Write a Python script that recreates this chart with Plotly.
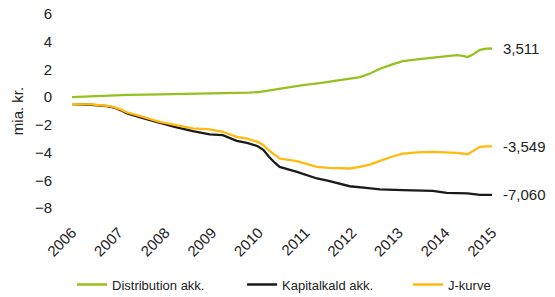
import plotly.graph_objects as go

# Distribution akk. (green)
dist_x = [2006.0, 2006.4, 2006.8, 2007.2, 2007.6, 2008.0, 2008.4, 2008.74, 2008.95, 2009.4, 2009.8,
          2010.0, 2010.24, 2010.5, 2010.75, 2010.95, 2011.31, 2011.6, 2011.9, 2012.17, 2012.4,
          2012.6, 2012.85, 2013.09, 2013.4, 2013.82, 2014.05, 2014.24, 2014.38, 2014.48,
          2014.6, 2014.74, 2014.88, 2015.0]
dist_y = [0.0, 0.05, 0.14, 0.17, 0.18, 0.2, 0.21, 0.22, 0.25, 0.28, 0.32,
          0.37, 0.5, 0.62, 0.75, 0.87, 1.01, 1.15, 1.28, 1.44, 1.72,
          2.05, 2.35, 2.6, 2.72, 2.88, 2.95, 3.03, 2.98, 2.89,
          3.1, 3.42, 3.5, 3.511]

# Kapitalkald akk. (black)
kap_x = [2006.0, 2006.4, 2006.75, 2006.9, 2007.05, 2007.18, 2007.5, 2007.88, 2008.2, 2008.59,
         2008.95, 2009.23, 2009.53, 2009.75, 2009.98, 2010.1, 2010.22, 2010.35, 2010.45, 2010.82,
         2011.25, 2011.5, 2011.74, 2011.95, 2012.3, 2012.6, 2013.09, 2013.4, 2013.73,
         2014.03, 2014.48, 2014.74, 2015.0]
kap_y = [-0.5, -0.55, -0.65, -0.75, -0.95, -1.18, -1.5, -1.88, -2.15, -2.45,
         -2.69, -2.74, -3.16, -3.3, -3.54, -3.8, -4.3, -4.75, -5.03, -5.39,
         -5.87, -6.05, -6.23, -6.43, -6.55, -6.66, -6.71, -6.74, -6.77,
         -6.91, -6.95, -7.05, -7.06]

# J-kurve (yellow)
j_x = [2006.0, 2006.4, 2006.75, 2006.9, 2007.05, 2007.18, 2007.5, 2007.88, 2008.2, 2008.59,
       2008.95, 2009.23, 2009.53, 2009.75, 2009.98, 2010.1, 2010.22, 2010.35, 2010.45, 2010.82,
       2011.25, 2011.5, 2011.74, 2011.95, 2012.17, 2012.4, 2012.6, 2012.85, 2013.09, 2013.4,
       2013.73, 2014.0, 2014.24, 2014.48, 2014.6, 2014.74, 2014.88, 2015.0]
j_y = [-0.5, -0.52, -0.62, -0.72, -0.9, -1.1, -1.4, -1.78, -2.0, -2.26,
       -2.33, -2.5, -2.87, -3.0, -3.23, -3.45, -3.85, -4.2, -4.43, -4.62,
       -5.03, -5.1, -5.15, -5.15, -5.03, -4.85, -4.6, -4.3, -4.07, -3.98,
       -3.95, -3.97, -4.02, -4.12, -3.85, -3.59, -3.55, -3.549]

years = [2006, 2007, 2008, 2009, 2010, 2011, 2012, 2013, 2014, 2015]
y_ticks = [6, 4, 2, 0, -2, -4, -6, -8]
end_labels = ["3,511", "-3,549", "-7,060"]

GREEN = "#97C11E"
BLACK = "#1A1A1A"
YELLOW = "#FFBA0D"

fig = go.Figure()
fig.add_trace(go.Scatter(x=dist_x, y=dist_y, mode="lines", name="Distribution akk.",
                         line=dict(color=GREEN, width=2.3), legend="legend"))
fig.add_trace(go.Scatter(x=kap_x, y=kap_y, mode="lines", name="Kapitalkald akk.",
                         line=dict(color=BLACK, width=2.3), legend="legend2"))
fig.add_trace(go.Scatter(x=j_x, y=j_y, mode="lines", name="J-kurve",
                         line=dict(color=YELLOW, width=2.3), legend="legend3"))

for val, lab in zip([dist_y[-1], j_y[-1], kap_y[-1]], end_labels):
    fig.add_annotation(x=2015, y=val, text=lab, showarrow=False, xanchor="left",
                       xshift=9, font=dict(size=15, color="#222222"))

leg_common = dict(orientation="h", y=0.042, yref="container", yanchor="middle",
                  xanchor="left", font=dict(size=13), bgcolor="rgba(0,0,0,0)", itemwidth=30)

fig.update_layout(
    width=555, height=297,
    margin=dict(l=72, r=63, t=14, b=89, autoexpand=False),
    paper_bgcolor="white", plot_bgcolor="white",
    font=dict(family="Liberation Sans, Arial, sans-serif", color="#222222", size=15),
    showlegend=True,
    legend=dict(x=0.0, **leg_common),
    legend2=dict(x=0.405, **leg_common),
    legend3=dict(x=0.80, **leg_common),
)
fig.update_xaxes(range=[2006, 2015], tickvals=years, ticktext=[str(y) for y in years],
                 tickangle=-45, showgrid=False, zeroline=False, showline=False,
                 ticks="outside", ticklen=9, tickcolor="rgba(0,0,0,0)",
                 tickfont=dict(size=15))
fig.update_yaxes(range=[-8, 6], tickvals=y_ticks, showgrid=False, zeroline=False,
                 showline=False, ticks="outside", ticklen=16, tickcolor="rgba(0,0,0,0)",
                 tickfont=dict(size=15),
                 title=dict(text="mia. kr.", font=dict(size=15), standoff=7))

fig.write_html("out.html", config={"displayModeBar": False},
               post_script="document.body.style.margin='0';")
